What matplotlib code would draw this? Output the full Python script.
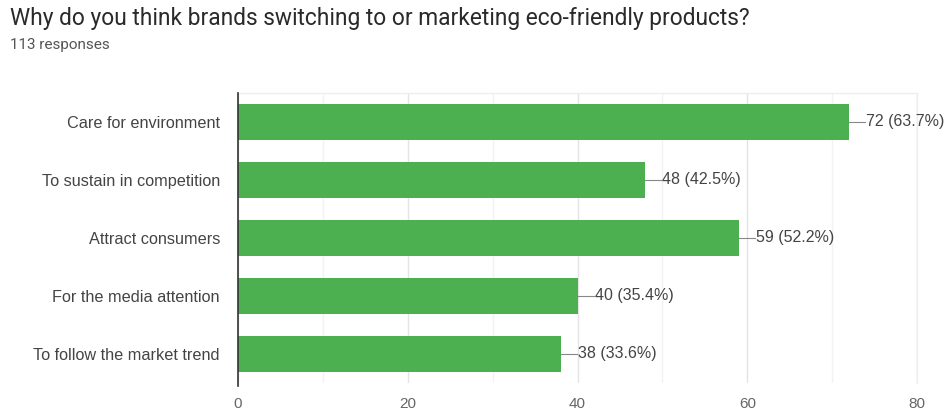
import matplotlib
matplotlib.use("Agg")
import matplotlib.pyplot as plt
from matplotlib.ticker import MultipleLocator

plt.rcParams['font.family'] = ['Liberation Sans', 'DejaVu Sans']

title = "Why do you think brands switching to or marketing eco-friendly products?"
subtitle = "113 responses"
categories = [
    "Care for environment",
    "To sustain in competition",
    "Attract consumers",
    "For the media attention",
    "To follow the market trend",
]
counts = [72, 48, 59, 40, 38]
percents = [63.7, 42.5, 52.2, 35.4, 33.6]
xticks = [0, 20, 40, 60, 80]

fig = plt.figure(figsize=(9.51, 4.12), dpi=100)
fig.patch.set_facecolor("white")
ax = fig.add_axes([0.2503, 0.0704, 0.7140, 0.7039])

ypos = list(range(len(categories)))
ax.barh(ypos, counts, height=0.62, color="#4caf50", zorder=3)
ax.set_ylim(len(categories) - 0.5, -0.5)
ax.set_xlim(0, 80)

ax.xaxis.set_major_locator(MultipleLocator(20))
ax.xaxis.set_minor_locator(MultipleLocator(10))
ax.grid(axis="x", which="major", color="#e4e4e4", linewidth=1, zorder=0)
ax.grid(axis="x", which="minor", color="#f2f2f2", linewidth=1, zorder=0)
ax.set_xticks(xticks)
ax.set_xticklabels([str(t) for t in xticks])
ax.tick_params(axis="x", which="both", length=0, pad=10, labelsize=11, labelcolor="#666666")
ax.set_yticks(ypos)
ax.set_yticklabels(categories)
ax.tick_params(axis="y", length=0, pad=13, labelsize=11.7, labelcolor="#444444")

for s in ["top", "right"]:
    ax.spines[s].set_color("#eeeeee")
    ax.spines[s].set_linewidth(1)
ax.spines["bottom"].set_visible(False)
ax.spines["left"].set_visible(False)
# vertical baseline, running a little below the plot area
ax.plot([0, 0], [-0.5, 4.55], color="#333333", linewidth=1.2, zorder=4, clip_on=False)

for y, c, p in zip(ypos, counts, percents):
    ax.plot([c, c + 1.9], [y, y], color="#888888", linewidth=0.8, zorder=4, clip_on=False)
    ax.text(c + 2.0, y, f"{c} ({p}%)", va="center", ha="left",
            fontsize=11.5, color="#444444", clip_on=False)

fig.text(0.0105, 0.955, title, fontsize=16.4, color="#2a2a2a", va="center", ha="left",
         family=['Roboto', 'DejaVu Sans'])
fig.text(0.0105, 0.891, subtitle, fontsize=11, color="#555555", va="center", ha="left",
         family=['Roboto', 'DejaVu Sans'])

fig.savefig("out.png", dpi=100, facecolor="white")
